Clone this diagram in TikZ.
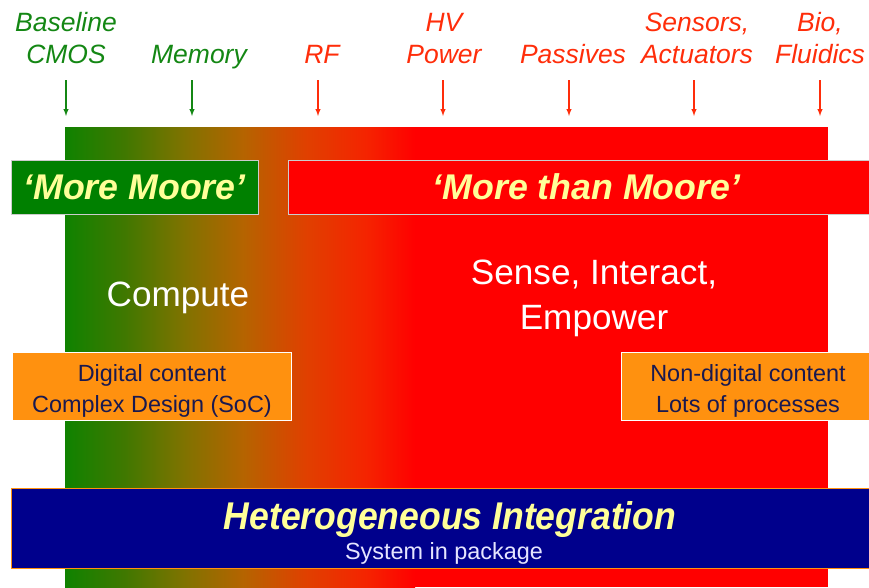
\documentclass[tikz,border=0pt]{standalone}
\usepackage{fontspec}
\setmainfont{Liberation Sans}
\usepackage{xcolor}
\usepackage{graphicx}
\usepackage{tikz}
\usetikzlibrary{arrows}
\usetikzlibrary{positioning}
\definecolor{mmgreen}{RGB}{0,128,0}
\definecolor{mmred}{RGB}{255,0,0}
\definecolor{lblgreen}{RGB}{20,135,20}
\definecolor{lblred}{RGB}{255,45,10}
\definecolor{boxorange}{RGB}{255,145,15}
\definecolor{boxnavy}{RGB}{0,0,140}
\definecolor{txtyellow}{RGB}{255,255,153}
\definecolor{txtnavy}{RGB}{25,25,80}
% central 50bp of the shading is stretched over the strip
\pgfdeclarehorizontalshading{greentored}{100bp}{rgb(0bp)=(0.06,0.51,0);
  rgb(25bp)=(0.06,0.51,0); rgb(33.5bp)=(0.25,0.47,0); rgb(42bp)=(0.5,0.45,0);
  rgb(50.5bp)=(0.71,0.39,0); rgb(59.5bp)=(0.88,0.25,0); rgb(68bp)=(0.96,0.14,0);
  rgb(75bp)=(1,0,0); rgb(100bp)=(1,0,0)}
\tikzstyle{lbl} = [align=center, inner sep=0pt, anchor=base,
font=\fontsize{22.6}{27.3}\selectfont\itshape]
\tikzstyle{banner} = [draw=white!80!black, line width=0.8pt, inner sep=0pt]
\tikzstyle{bannertext} = [text=txtyellow, inner sep=0pt,
font=\fontsize{30.5}{34}\selectfont\bfseries\itshape]
\tikzstyle{content} = [fill=boxorange, draw=white, line width=0.8pt, inner sep=0pt]
\tikzstyle{contenttext} = [text=txtnavy, align=center, inner sep=0pt,
font=\fontsize{20}{26.5}\selectfont]
\tikzstyle{big} = [text=white, align=center, inner sep=0pt,
font=\fontsize{30}{38.4}\selectfont]
\newcommand{\pointer}[3][]{ %
  % Point from coordinate #2 down to coordinate #3.
  \path (#2) edge [->, >={latex}, line width=1pt, #1] (#3) ;%
}

\begin{document}
\begin{tikzpicture}[x=0.03cm, y=-0.03cm]
  \useasboundingbox (0,0) rectangle (869,587);
  % background
  \fill[mmred] (414,127) rectangle (828,587);
  \shade[shading=greentored] (65,127) rectangle (415,587);
  % top labels
  \node[lbl, text=lblgreen] (cmos)    at (66,63)  {Baseline\\CMOS};
  \node[lbl, text=lblgreen] (memory)  at (199,63) {Memory};
  \node[lbl, text=lblred]   (rf)      at (322,63) {RF};
  \node[lbl, text=lblred]   (hv)      at (444,63) {HV\\Power};
  \node[lbl, text=lblred]   (passive) at (573,63) {Passives};
  \node[lbl, text=lblred]   (sensors) at (697,63) {Sensors,\\Actuators};
  \node[lbl, text=lblred]   (bio)     at (820,63) {Bio,\\Fluidics};
  % arrows
  \foreach \n/\x in {1/66, 2/192, 3/318, 4/443, 5/569, 6/694, 7/820} {
    \coordinate (t\n) at (\x,80);
    \coordinate (h\n) at (\x,116);
  }
  \pointer[lblgreen] {t1} {h1}
  \pointer[lblgreen] {t2} {h2}
  \foreach \n in {3,...,7} {\pointer[lblred] {t\n} {h\n}}
  % banners
  \node[banner, fill=mmgreen, minimum width=247*0.03cm, minimum height=54*0.03cm]
    (moremoore) at (134.5,187) {};
  \node[bannertext] (moremooretext) at (moremoore) {`More Moore'};
  \node[banner, fill=mmred, minimum width=581*0.03cm, minimum height=54*0.03cm]
    (morethan) at (578.5,187) {};
  \node[bannertext] (morethantext) at (586.5,187) {`More than Moore'};
  % middle
  \node[big] (compute) at (178,298) {Compute};
  \node[big] (sense)   at (594,298) {Sense, Interact,\\Empower};
  % content boxes
  \node[content, minimum width=279*0.03cm, minimum height=68*0.03cm] (digital)
    at (151.5,386) {};
  \node[contenttext] (digitaltext) at (152,391) {Digital content\\Complex Design (SoC)};
  \node[content, minimum width=248*0.03cm, minimum height=68*0.03cm] (nondigital)
    at (745,386) {};
  \node[contenttext] (nondigitaltext) at (748,391) {Non-digital content\\Lots of processes};
  % integration
  \node[fill=boxnavy, draw=boxorange, line width=0.8pt, minimum width=858*0.03cm,
    minimum height=80*0.03cm] (hetero) at (440,528) {};
  \node[bannertext, font=\fontsize{33}{36}\selectfont\bfseries\itshape] (heterotext)
    at (450,519) {\scalebox{0.92}[1]{Heterogeneous Integration}};
  \node[text=white!90!blue, inner sep=0pt, font=\fontsize{20}{24}\selectfont]
    (sip) at (444,553) {System in package};
\end{tikzpicture}
\end{document}
